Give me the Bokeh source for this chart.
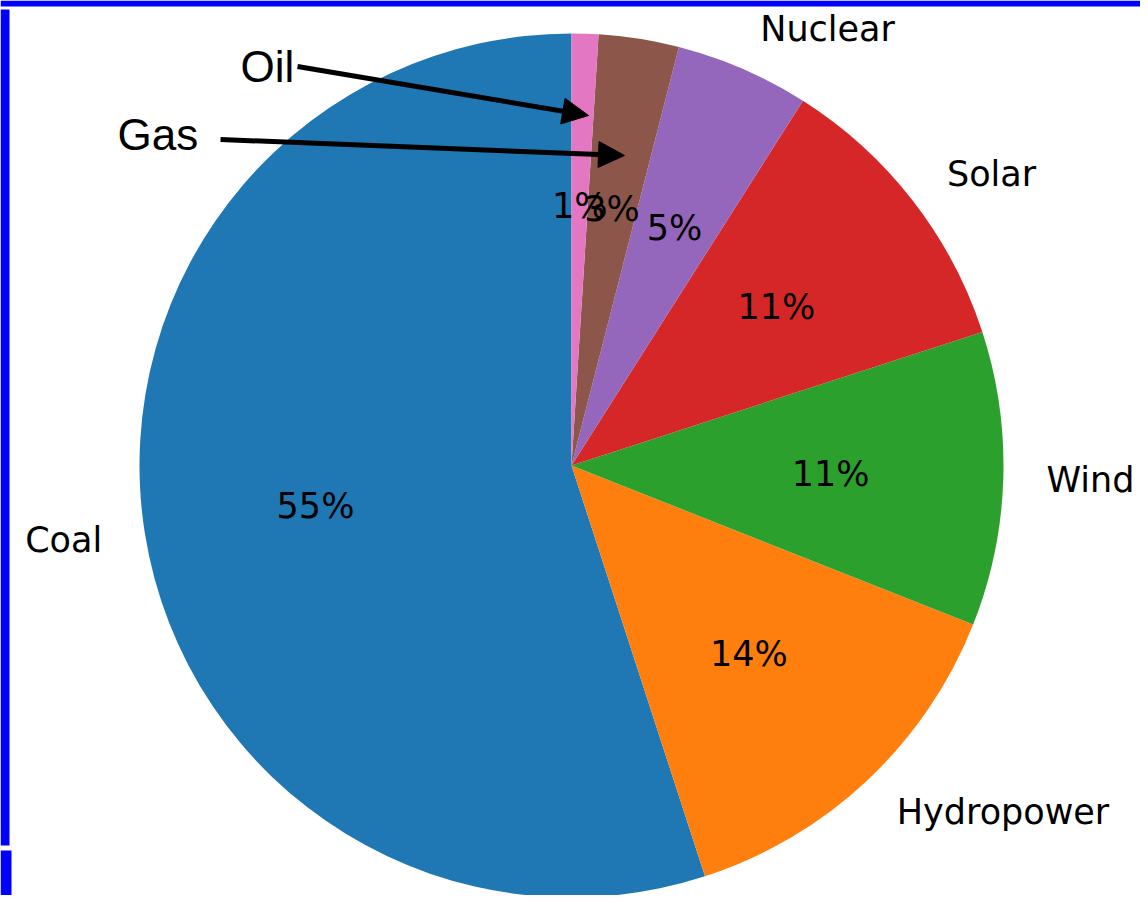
import numpy as np
from bokeh.plotting import figure
from bokeh.models import Range1d, ColumnDataSource, Arrow, NormalHead, Label, BoxAnnotation
from bokeh.core.properties import value
from bokeh.embed import file_html
from bokeh.resources import INLINE

# ---- data ----
labels = ["Coal", "Hydropower", "Wind", "Solar", "Nuclear", "Gas", "Oil"]
shares = [55, 14, 11, 11, 5, 3, 1]
colors = ["#1f77b4", "#ff7f0e", "#2ca02c", "#d62728", "#9467bd", "#8c564b", "#e377c2"]
outer_labels = ["Coal", "Hydropower", "Wind", "Solar", "Nuclear"]  # Gas/Oil annotated with arrows
annot_labels = ["Oil", "Gas"]

# ---- geometry ----
W, H = 1140, 895
CX, CY, R = 571, 465, 432  # pixel centre/radius of pie within the figure
x0 = (0 - CX) / R
x1 = (W - CX) / R
y1 = CY / R
y0 = (CY - H) / R

def px(x, y):
    return (x - CX) / R, (CY - y) / R

vals = np.array(shares, dtype=float)
frac = vals / vals.sum()
cum = np.concatenate([[0], np.cumsum(frac)])
start = np.deg2rad(90 + 360 * cum[:-1])
end = np.deg2rad(90 + 360 * cum[1:])
mid = (start + end) / 2

pct_text = ["%d%%" % round(f * 100) for f in frac]

src = ColumnDataSource(dict(start=start, end=end, color=colors, label=labels))

p = figure(width=W, height=H, output_backend="svg", toolbar_location=None,
           x_range=Range1d(x0, x1), y_range=Range1d(y0, y1),
           min_border=0, outline_line_color=None)
p.axis.visible = False
p.grid.visible = False
p.background_fill_color = "white"
p.border_fill_color = "white"

# blue frame edges seen in the reference screenshot
for (l, t, r, b) in [(0, 0, W, 6), (0, 9, 9, 845), (0, 850, 11, H)]:
    L, T = px(l, t)
    Rr, B = px(r, b)
    p.add_layout(BoxAnnotation(left=L, right=Rr, top=T, bottom=B,
                               fill_color="#0000ff", fill_alpha=1.0, line_color=None, level="underlay"))

p.wedge(x=0, y=0, radius=1, start_angle="start", end_angle="end",
        direction="anticlock", fill_color="color", line_color=None, source=src)

# percentage labels at 0.6 r
p.text(x=0.6 * np.cos(mid), y=0.6 * np.sin(mid), text=pct_text,
       text_align="center", text_baseline="middle",
       text_font=value("DejaVu Sans"), text_font_size=value("35px"), text_color="black")

# outer labels at 1.1 r
for name in outer_labels:
    i = labels.index(name)
    lx, ly = 1.1 * np.cos(mid[i]), 1.1 * np.sin(mid[i])
    p.text(x=[lx], y=[ly], text=[name],
           text_align="left" if lx > 0 else "right", text_baseline="middle",
           text_font=value("DejaVu Sans"), text_font_size=value("35px"), text_color="black")

# annotations with arrows (Oil, Gas)
ox, oy = px(240, 66)
gx, gy = px(117, 134)
p.add_layout(Label(x=ox, y=oy, text=annot_labels[0], text_font="Liberation Sans", text_font_size="44px",
                   text_baseline="middle", text_align="left", text_color="black"))
p.add_layout(Label(x=gx, y=gy, text=annot_labels[1], text_font="Liberation Sans", text_font_size="44px",
                   text_baseline="middle", text_align="left", text_color="black"))

for (sx, sy), (ex, ey) in [((297, 66), (588, 115)), ((220, 139), (624, 155))]:
    a, b = px(sx, sy)
    c, d = px(ex, ey)
    p.add_layout(Arrow(x_start=a, y_start=b, x_end=c, y_end=d, line_width=5, line_color="black",
                       end=NormalHead(size=26, fill_color="black", line_color="black")))

open("out.html", "w").write(file_html(p, INLINE))
